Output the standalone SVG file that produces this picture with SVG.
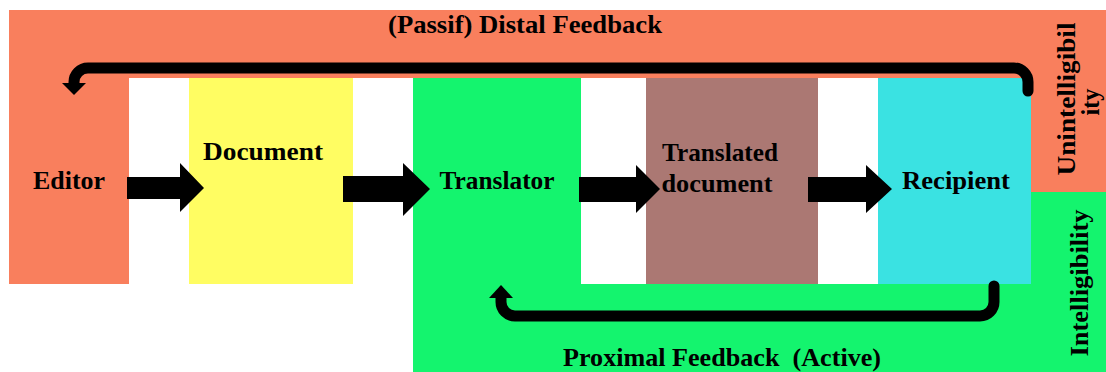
<svg xmlns="http://www.w3.org/2000/svg" width="1106" height="372" viewBox="0 0 1106 372">
<style>
.lbl{font-family:"Liberation Serif","Times New Roman",serif;font-weight:bold;font-size:25px;fill:#000;}
.rot{font-family:"Liberation Serif","Times New Roman",serif;font-weight:bold;font-size:25px;fill:#000;}
.fb{fill:none;stroke:#000;stroke-width:11;stroke-linecap:round;stroke-linejoin:round;}
.blk{fill:#000;}
</style>
<rect width="1106" height="372" fill="#ffffff"/>
<g id="distal-zone">
<rect x="9" y="10" width="1097" height="274" fill="#F97F5D"/>
<rect x="129" y="78" width="902" height="206" fill="#ffffff"/>
<text class="lbl" x="525" y="33" text-anchor="middle" textLength="274" lengthAdjust="spacingAndGlyphs">(Passif) Distal Feedback</text>
</g>
<g id="proximal-zone">
<rect x="413" y="284" width="693" height="88" fill="#14F46E"/>
<rect x="1031" y="192" width="75" height="180" fill="#14F46E"/>
<text class="lbl" x="722" y="366" text-anchor="middle" textLength="318" lengthAdjust="spacingAndGlyphs" xml:space="preserve">Proximal Feedback  (Active)</text>
</g>
<g id="editor">
<rect x="9" y="78" width="120" height="206" fill="#F97F5D"/>
<text class="lbl" x="69" y="189" text-anchor="middle" textLength="72" lengthAdjust="spacingAndGlyphs">Editor</text>
</g>
<g id="document">
<rect x="189" y="78" width="164" height="206" fill="#FFFD62"/>
<text class="lbl" x="263" y="160" text-anchor="middle" textLength="120" lengthAdjust="spacingAndGlyphs">Document</text>
</g>
<g id="translator">
<rect x="413" y="78" width="168" height="206" fill="#14F46E"/>
<text class="lbl" x="497" y="189" text-anchor="middle" textLength="115" lengthAdjust="spacingAndGlyphs">Translator</text>
</g>
<g id="translated-document">
<rect x="646" y="78" width="172" height="206" fill="#AB7873"/>
<text class="lbl" x="720" y="161" text-anchor="middle" textLength="116" lengthAdjust="spacingAndGlyphs">Translated</text>
<text class="lbl" x="717" y="192" text-anchor="middle" textLength="111" lengthAdjust="spacingAndGlyphs">document</text>
</g>
<g id="recipient">
<rect x="878" y="78" width="153" height="206" fill="#3AE2E2"/>
<text class="lbl" x="956" y="189" text-anchor="middle" textLength="108" lengthAdjust="spacingAndGlyphs">Recipient</text>
</g>
<g id="unintelligibility">
<text class="rot" transform="translate(1075,99) rotate(-90)" text-anchor="middle" textLength="153" lengthAdjust="spacingAndGlyphs">Unintelligibil</text>
<text class="rot" transform="translate(1099,102) rotate(-90)" text-anchor="middle" textLength="27" lengthAdjust="spacingAndGlyphs">ity</text>
</g>
<g id="intelligibility">
<text class="rot" transform="translate(1088,283) rotate(-90)" text-anchor="middle" textLength="147" lengthAdjust="spacingAndGlyphs">Intelligibility</text>
</g>
<g id="connectors">
<polygon class="blk" points="127,177 180,177 180,163 204,188 180,212 180,199 127,199"/>
<polygon class="blk" points="343,176 403,176 403,163 430,189 403,216 403,202 343,202"/>
<polygon class="blk" points="579,177 636,177 636,165 660,189 636,213 636,202 579,202"/>
<polygon class="blk" points="808,177 866,177 866,165 892,189 866,213 866,202 808,202"/>
<path class="fb" d="M1028,91 V82 A14,14 0 0 0 1014,68 H88 A14,14 0 0 0 74,82 V84"/>
<polygon class="blk" points="62,83 86,83 74,95"/>
<path class="fb" d="M994,286 V302 A14,14 0 0 1 980,316 H515 A14,14 0 0 1 501,302 V297"/>
<polygon class="blk" points="489,298 513,298 501,285"/>
</g>
</svg>
